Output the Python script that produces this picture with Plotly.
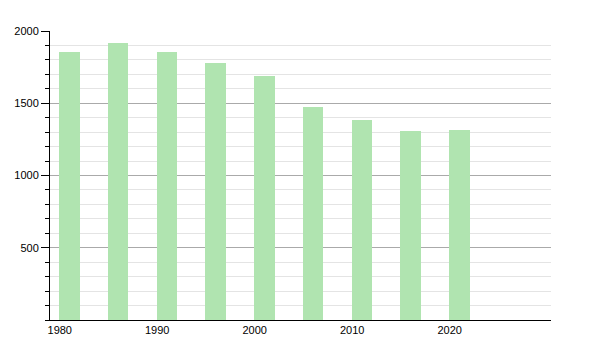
import plotly.graph_objects as go

years = [1981, 1986, 1991, 1996, 2001, 2006, 2011, 2016, 2021]
population = [1857, 1915, 1853, 1776, 1688, 1472, 1386, 1310, 1315]
x_ticks = [1980, 1990, 2000, 2010, 2020]

fig = go.Figure(go.Bar(
    x=years, y=population, width=2.1,
    marker=dict(color="rgb(176,228,176)", line=dict(width=0)),
))

fig.update_layout(
    width=600, height=350,
    margin=dict(l=50, r=49, t=31, b=30),
    paper_bgcolor="white", plot_bgcolor="white",
    font=dict(family="Liberation Sans, Arial, sans-serif", size=11, color="black"),
    showlegend=False, bargap=0,
)
fig.update_xaxes(
    range=[1979, 2030.4], tickvals=x_ticks, ticks="", showgrid=False,
    showline=True, linecolor="black", linewidth=1, zeroline=False,
)
fig.update_yaxes(
    range=[0, 2000], tickvals=[500, 1000, 1500, 2000], showgrid=True,
    gridcolor="#aaaaaa", gridwidth=1, ticks="outside", ticklen=8,
    tickcolor="black", showline=True, linecolor="black", linewidth=1,
    zeroline=False,
    minor=dict(dtick=100, tick0=0, showgrid=True, gridcolor="#e4e4e4",
               ticks="outside", ticklen=4, tickcolor="black"),
)

fig.write_html("out.html")
